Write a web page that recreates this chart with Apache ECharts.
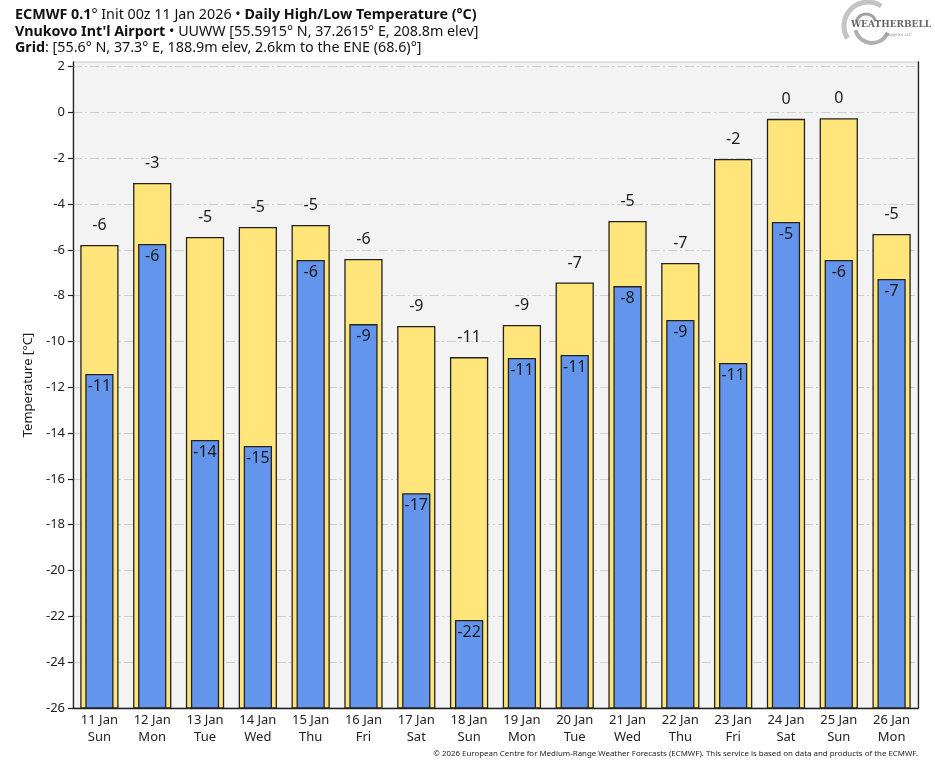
<!DOCTYPE html>
<html>
<head>
<meta charset="utf-8">
<script src="https://cdn.jsdelivr.net/npm/echarts@6/dist/echarts.min.js"></script>
<style>
html,body{margin:0;padding:0;background:#fff;}
#chart{width:935px;height:768px;}
</style>
</head>
<body>
<div id="chart"></div>
<script>
// ---- data ----
const dates = ['11 Jan','12 Jan','13 Jan','14 Jan','15 Jan','16 Jan','17 Jan','18 Jan','19 Jan','20 Jan','21 Jan','22 Jan','23 Jan','24 Jan','25 Jan','26 Jan'];
const weekdays = ['Sun','Mon','Tue','Wed','Thu','Fri','Sat','Sun','Mon','Tue','Wed','Thu','Fri','Sat','Sun','Mon'];
const highs = [-5.82,-3.11,-5.47,-5.03,-4.94,-6.43,-9.35,-10.71,-9.31,-7.45,-4.77,-6.60,-2.06,-0.31,-0.28,-5.34];
const lows  = [-11.45,-5.77,-14.33,-14.59,-6.47,-9.27,-16.65,-22.19,-10.75,-10.62,-7.61,-9.09,-10.97,-4.81,-6.47,-7.30];
const yTicks = [-26,-24,-22,-20,-18,-16,-14,-12,-10,-8,-6,-4,-2,0,2];
const yMin = -26, yMax = 2.2;

const categories = dates.map((d, i) => d + '\n' + weekdays[i]);
const fmt = v => { const r = Math.round(v); return String(r === 0 ? 0 : r); };

function makeRender(ratio, fill, labelAbove) {
  return function (params, api) {
    const x = api.value(0), v = api.value(1);
    const top = api.coord([x, v]);
    const base = api.coord([x, yMin]);
    const w = api.size([1, 0])[0] * ratio;
    const children = [{
      type: 'rect',
      shape: { x: top[0] - w / 2, y: top[1], width: w, height: base[1] - top[1] },
      style: { fill: fill, stroke: '#222', lineWidth: 1.3 }
    }, {
      type: 'text',
      x: top[0],
      y: labelAbove ? top[1] - 20 : top[1] + 12,
      style: {
        text: fmt(v), fill: '#1a1a1a', font: '16px "Noto Sans"',
        align: 'center', verticalAlign: 'middle'
      }
    }];
    return { type: 'group', children: children };
  };
}

const chart = echarts.init(document.getElementById('chart'), null, { renderer: 'canvas' });
const gridLine = { color: '#cfcfcf', width: 1, type: [9, 3, 2, 3] };

chart.setOption({
  animation: false,
  backgroundColor: '#ffffff',
  textStyle: { fontFamily: 'Noto Sans' },
  title: {
    left: 10, top: 2,
    text: '{b|ECMWF 0.1}° Init 00z 11 Jan 2026 • {b|Daily High/Low Temperature (°C)}\n' +
          '{b|Vnukovo Int\'l Airport} • UUWW [55.5915° N, 37.2615° E, 208.8m elev]\n' +
          '{b|Grid}: [55.6° N, 37.3° E, 188.9m elev, 2.6km to the ENE (68.6)°]',
    textStyle: {
      fontFamily: 'Noto Sans', fontSize: 14.3, fontWeight: 'normal', color: '#111', lineHeight: 16.5,
      rich: { b: { fontFamily: 'Noto Sans', fontSize: 14.3, fontWeight: 'bold', color: '#111', lineHeight: 16.5 } }
    }
  },
  grid: {
    left: 73, right: 17, top: 62, bottom: 60,
    show: true, backgroundColor: '#f3f3f3', borderColor: '#c8c8c8', borderWidth: 1
  },
  xAxis: [{
    type: 'category', data: categories, boundaryGap: true,
    axisLine: { show: true, onZero: false, lineStyle: { color: '#222', width: 1.3 } },
    axisTick: { show: false },
    axisLabel: { color: '#222', fontSize: 13, lineHeight: 17, margin: 4, interval: 0, fontFamily: 'Noto Sans' },
    splitLine: { show: false }
  }],
  yAxis: [{
    type: 'value', min: yMin, max: yMax, interval: 2,
    name: 'Temperature [°C]', nameLocation: 'middle', nameGap: 38, nameRotate: 90,
    nameTextStyle: { color: '#222', fontSize: 13, fontFamily: 'Noto Sans' },
    axisLine: { show: true, lineStyle: { color: '#222', width: 1.3 } },
    axisTick: { show: true, length: 5, lineStyle: { color: '#222', width: 1.2 }, customValues: yTicks },
    axisLabel: {
      color: '#222', fontSize: 13, margin: 8, fontFamily: 'Noto Sans', customValues: yTicks,
      formatter: v => (Math.abs(v - Math.round(v)) < 1e-6 && Math.round(v) % 2 === 0) ? String(v) : ''
    },
    splitLine: { show: true, lineStyle: gridLine }
  }, {
    type: 'value', min: yMin, max: yMax, position: 'right',
    axisLine: { show: true, lineStyle: { color: '#222', width: 1.3 } },
    axisTick: { show: false }, axisLabel: { show: false }, splitLine: { show: false }
  }],
  series: [{
    name: 'High', type: 'custom', xAxisIndex: 0, yAxisIndex: 0,
    renderItem: makeRender(0.70, '#ffe57a', true),
    encode: { x: 0, y: 1 },
    data: highs.map((v, i) => [i, v]),
    clip: false, z: 2
  }, {
    name: 'Low', type: 'custom', xAxisIndex: 0, yAxisIndex: 0,
    renderItem: makeRender(0.51, '#6495ed', false),
    encode: { x: 0, y: 1 },
    data: lows.map((v, i) => [i, v]),
    clip: false, z: 3
  }],
  graphic: [
    { type: 'arc', shape: { cx: 868, cy: 26, r: 24, startAngle: 2.6, endAngle: 5.3 }, style: { stroke: '#c4c4c4', lineWidth: 5, fill: null } },
    { type: 'arc', shape: { cx: 872, cy: 26, r: 17, startAngle: 0.4, endAngle: 2.9 }, style: { stroke: '#b0b0b0', lineWidth: 4, fill: null } },
    { type: 'arc', shape: { cx: 866, cy: 24, r: 10, startAngle: 3.4, endAngle: 6.0 }, style: { stroke: '#a0a0a0', lineWidth: 3, fill: null } },
    { type: 'text', x: 851, y: 25, style: { text: 'WEATHERBELL', fill: '#666', font: 'bold 9px "DejaVu Serif"', verticalAlign: 'middle' } },
    { type: 'text', x: 885, y: 35, style: { text: 'Analytics LLC', fill: '#888', font: '4px "DejaVu Sans"', verticalAlign: 'middle' } },
    { type: 'text', right: 17, top: 750, style: { text: '© 2026 European Centre for Medium-Range Weather Forecasts (ECMWF). This service is based on data and products of the ECMWF.', fill: '#222', font: '7.9px "Noto Sans"' } }
  ]
});
</script>
</body>
</html>
